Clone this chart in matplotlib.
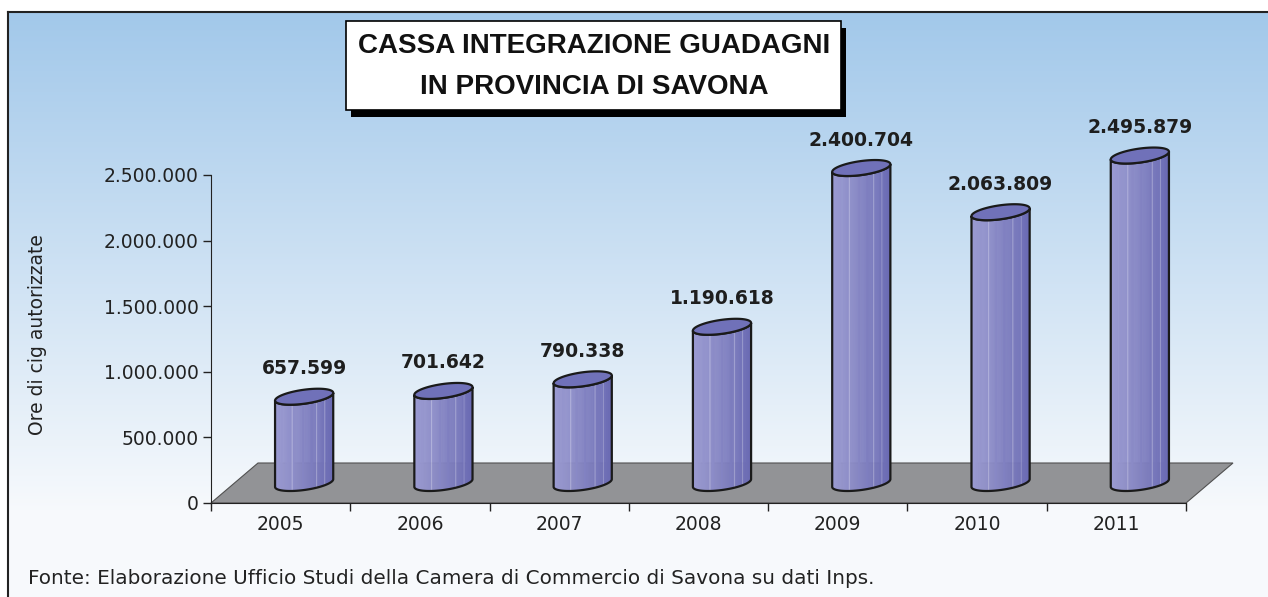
import numpy as np
import matplotlib
matplotlib.use("Agg")
import matplotlib.pyplot as plt
from matplotlib.patches import Polygon, Rectangle
from matplotlib.collections import PolyCollection
from matplotlib.colors import LinearSegmentedColormap

# data
years = ["2005", "2006", "2007", "2008", "2009", "2010", "2011"]
hours = [657599, 701642, 790338, 1190618, 2400704, 2063809, 2495879]
yticks = [0, 500000, 1000000, 1500000, 2000000, 2500000]
title_lines = ["CASSA INTEGRAZIONE GUADAGNI", "IN PROVINCIA DI SAVONA"]
ylabel = "Ore di cig autorizzate"
source = "Fonte: Elaborazione Ufficio Studi della Camera di Commercio di Savona su dati Inps."


def it(v):
    # italian thousands separator
    return f"{v:,}".replace(",", ".")


W, H = 1268, 597
fig = plt.figure(figsize=(W / 100, H / 100), dpi=100)

# background gradient + frame (pixel coords)
bg = fig.add_axes([0, 0, 1, 1], zorder=0)
bg.set_xlim(0, W)
bg.set_ylim(H, 0)
bg.axis("off")
rows = np.arange(12, H)
t = np.clip((rows - 12) / (515 - 12), 0, 1)[:, None]
c_top = np.array([0.635, 0.785, 0.918])
c_bot = np.array([0.972, 0.98, 0.99])
img = c_top + (c_bot - c_top) * t
bg.imshow(img[:, None, :], extent=(8, W, H, 12), aspect="auto", interpolation="bilinear")
bg.plot([8, 8], [H, 12], color="#222222", lw=1.5)
bg.plot([8, W], [12, 12], color="#222222", lw=1.5)

# title box with shadow
bg.add_patch(Rectangle((351, 28), 495, 89, fc="black", ec="none"))
bg.add_patch(Rectangle((346, 21), 495, 89, fc="white", ec="black", lw=1.2))
bg.text(594, 46, title_lines[0], ha="center", va="center", fontsize=20,
        fontweight="bold", family="Liberation Sans", color="#111111")
bg.text(594, 87, title_lines[1], ha="center", va="center", fontsize=20,
        fontweight="bold", family="Liberation Sans", color="#111111")

# main axes
ax = fig.add_axes([211 / W, (H - 503) / H, 975 / W, 328 / H], zorder=2)
ax.patch.set_alpha(0)
ax.set_autoscale_on(False)
ax.set_xlim(-0.5, 6.5)
ax.set_ylim(0, 2500000)
sx = 7 / 975          # data per pixel, x
sy = 2500000 / 328    # data per pixel, y

# floor
fdx, fdy = 47 * sx, 40 * sy
floor = Polygon([(-0.5, 0), (6.5, 0), (6.5 + fdx, fdy), (-0.5 + fdx, fdy)],
                closed=True, fc="#929396", ec="#505050", lw=0.8, clip_on=False, zorder=1)
ax.add_patch(floor)

# cylinders
r_px, a_px, b_px = 25.5, 14.0, 8.0
t0 = np.arctan2(a_px, r_px)
tt = np.linspace(0, 2 * np.pi, 200)
n_strip = 80
tf = np.linspace(t0 + np.pi, t0 + 2 * np.pi, n_strip + 1)


def ell(ts):
    return (r_px * np.cos(ts) + a_px * np.sin(ts)) * sx, b_px * np.sin(ts) * sy


cmap = LinearSegmentedColormap.from_list(
    "cyl", ["#9b9bd2", "#9191cb", "#8585c3", "#7878bc", "#6a6ab3"])
fx, fy = ell(tf)
frac = (fx[:-1] + fx[1:] - 2 * fx[0]) / 2 / (fx[-1] - fx[0])
strip_cols = cmap(frac)
# faint light streaks
for pos in (0.3, 0.72, 0.86):
    k = np.argmin(np.abs(frac - pos))
    strip_cols[k, :3] = strip_cols[k, :3] * 0.7 + 0.3

for i, v in enumerate(hours):
    cx = i + fdx / 2
    base = fdy / 2
    top = v + fdy / 2
    strips = []
    for j in range(n_strip):
        strips.append([(cx + fx[j], base + fy[j]), (cx + fx[j + 1], base + fy[j + 1]),
                       (cx + fx[j + 1], top + fy[j + 1]), (cx + fx[j], top + fy[j])])
    pc = PolyCollection(strips, facecolors=strip_cols, edgecolors=strip_cols, linewidths=0.4,
                        clip_on=False, zorder=3)
    ax.add_collection(pc)
    px = np.concatenate([cx + fx, cx + fx[::-1]])
    py = np.concatenate([base + fy, top + fy[::-1]])
    ax.add_patch(Polygon(np.column_stack([px, py]), closed=True, fc="none", ec="#1a1a1a",
                         lw=1.6, clip_on=False, zorder=4))
    ex, ey = ell(tt)
    ax.add_patch(Polygon(np.column_stack([cx + ex, top + ey]), closed=True, fc="#7071b9",
                         ec="#1a1a1a", lw=1.6, clip_on=False, zorder=5))
    ax.text(cx, top + 28 * sy, it(v), ha="center", va="center", fontsize=13.5,
            fontweight="bold", color="#1e1e1e", zorder=6)

# axes styling
for s in ("top", "right"):
    ax.spines[s].set_visible(False)
ax.spines["left"].set_color("#222222")
ax.spines["bottom"].set_color("#222222")
ax.spines["bottom"].set_zorder(2)
ax.set_yticks(yticks)
ax.set_yticklabels([it(v) for v in yticks])
ax.tick_params(axis="y", direction="out", length=6, width=1, pad=3, labelsize=13.5,
               colors="#222222")
ax.set_xticks(np.arange(-0.5, 7, 1))
ax.set_xticklabels([""] * 8)
ax.set_xticks(np.arange(len(years)), minor=True)
ax.set_xticklabels(years, minor=True)
ax.tick_params(axis="x", which="major", direction="out", length=6, width=1, color="#222222")
ax.tick_params(axis="x", which="minor", length=0, pad=8.5, labelsize=13.5, labelcolor="#222222")

fig.text(38 / W, 1 - 335 / H, ylabel, rotation=90, ha="center", va="center",
         fontsize=13.5, color="#222222")
fig.text(28 / W, 1 - 578 / H, source, ha="left", va="center", fontsize=14.4, color="#222222")

fig.savefig("out.png", dpi=100)
